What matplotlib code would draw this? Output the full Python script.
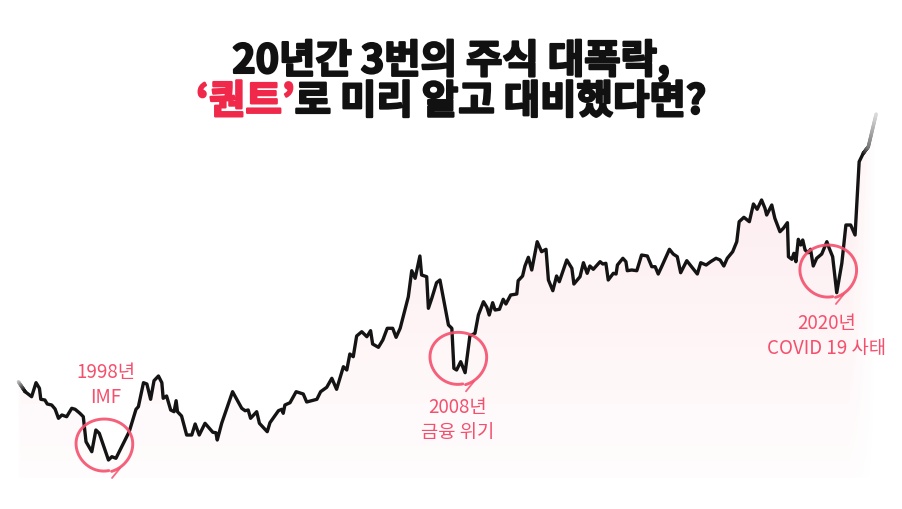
import matplotlib
matplotlib.use("Agg")
import matplotlib.pyplot as plt
import matplotlib.patheffects as pe
import numpy as np
from matplotlib.collections import LineCollection
from matplotlib.transforms import Affine2D, ScaledTranslation

# 지수 흐름 (연도, 지수 수준) - 그림에서 읽은 값
years = [
    1996.01, 1996.21, 1996.40, 1996.53, 1996.63, 1996.67, 1996.79, 1996.86, 1996.99, 1997.09,
    1997.19, 1997.29, 1997.43, 1997.58, 1997.68, 1997.82, 1997.92, 1998.00, 1998.17, 1998.29,
    1998.39, 1998.66, 1998.76, 1998.88, 1999.10, 1999.27, 1999.47, 1999.54, 1999.69, 1999.79,
    1999.90, 2000.00, 2000.13, 2000.23, 2000.27, 2000.37, 2000.49, 2000.59, 2000.65, 2000.69,
    2000.81, 2000.96, 2001.11, 2001.21, 2001.33, 2001.50, 2001.73, 2001.82, 2001.86, 2001.99,
    2002.31, 2002.58, 2002.68, 2002.77, 2002.84, 2003.02, 2003.10, 2003.33, 2003.41, 2003.66,
    2003.76, 2003.80, 2003.85, 2004.00, 2004.18, 2004.39, 2004.49, 2004.79, 2004.90, 2005.08,
    2005.23, 2005.37, 2005.57, 2005.67, 2005.76, 2005.86, 2005.96, 2006.11, 2006.26, 2006.37,
    2006.43, 2006.60, 2006.73, 2006.86, 2007.02, 2007.12, 2007.24, 2007.48, 2007.58, 2007.68,
    2007.82, 2007.87, 2008.02, 2008.07, 2008.17, 2008.31, 2008.41, 2008.66, 2008.76, 2008.82,
    2008.90, 2009.02, 2009.15, 2009.29, 2009.44, 2009.54, 2009.69, 2009.79, 2009.86, 2009.96,
    2010.03, 2010.16, 2010.27, 2010.35, 2010.49, 2010.67, 2010.71, 2010.84, 2010.91, 2011.01,
    2011.11, 2011.27, 2011.40, 2011.53, 2011.60, 2011.73, 2011.84, 2011.92, 2012.14, 2012.29,
    2012.35, 2012.53, 2012.63, 2012.74, 2012.82, 2012.92, 2013.12, 2013.20, 2013.29, 2013.36,
    2013.51, 2013.59, 2013.63, 2013.79, 2013.88, 2013.92, 2014.05, 2014.20, 2014.34, 2014.51,
    2014.64, 2014.74, 2014.83, 2014.93, 2015.16, 2015.27, 2015.39, 2015.49, 2015.67, 2015.81,
    2015.98, 2016.08, 2016.24, 2016.37, 2016.53, 2016.65, 2016.76, 2016.86, 2017.02, 2017.14,
    2017.21, 2017.35, 2017.51, 2017.63, 2017.74, 2017.87, 2017.97, 2018.02, 2018.17, 2018.26,
    2018.41, 2018.51, 2018.63, 2018.66, 2018.76, 2018.82, 2018.88, 2018.95, 2019.02, 2019.08,
    2019.15, 2019.24, 2019.31, 2019.39, 2019.49, 2019.64, 2019.79, 2019.86, 2019.96, 2020.08,
    2020.23, 2020.35, 2020.49, 2020.62, 2020.74, 2020.86, 2021.01, 2021.24,
]
levels = [
    1083, 983, 933, 1073, 1017, 907, 900, 860, 850, 810,
    717, 750, 733, 817, 807, 767, 733, 483, 383, 600,
    567, 300, 333, 317, 467, 583, 807, 833, 1073, 1060,
    907, 1093, 1140, 1073, 917, 940, 800, 783, 893, 783,
    740, 550, 550, 660, 550, 667, 577, 573, 500, 667,
    983, 817, 793, 800, 717, 783, 667, 583, 673, 793,
    807, 767, 850, 873, 983, 960, 880, 907, 983, 1027,
    1117, 1007, 1233, 1200, 1360, 1333, 1540, 1583, 1533, 1593,
    1460, 1427, 1500, 1617, 1617, 1527, 1617, 1933, 2193, 2117,
    2340, 2150, 2133, 1817, 1917, 2073, 2100, 1650, 1617, 1217,
    1200, 1283, 1173, 1540, 1567, 1750, 1883, 1827, 1750, 1873,
    1800, 1807, 1907, 1860, 1950, 1960, 2093, 2140, 2240, 2327,
    2200, 2483, 2383, 2407, 2100, 1993, 2140, 2083, 2300, 2217,
    2060, 2133, 2273, 2167, 2240, 2207, 2283, 2260, 2267, 2100,
    2167, 2160, 2250, 2317, 2283, 2193, 2200, 2193, 2350, 2340,
    2233, 2233, 2160, 2233, 2407, 2360, 2333, 2173, 2293, 2233,
    2160, 2273, 2250, 2283, 2317, 2300, 2240, 2317, 2383, 2483,
    2683, 2727, 2683, 2860, 2807, 2900, 2817, 2750, 2850, 2717,
    2583, 2617, 2673, 2333, 2307, 2367, 2283, 2507, 2450, 2500,
    2400, 2373, 2407, 2240, 2317, 2360, 2483, 2417, 2333, 1973,
    2267, 2650, 2650, 2550, 3283, 3367, 3433, 3760,
]

# 폭락 구간 표시 (동그라미 중심, 설명 위치, 설명)
crash_years = [1998.53, 2008.94, 2019.82]
crash_levels = [450, 1317, 2190]
label_years = [1998.59, 2008.94, 2019.79]
label_levels = [1050, 700, 1540]
crash_labels = ["1998년\nIMF", "2008년\n금융 위기", "2020년\nCOVID 19 사태"]

title_line1 = "20년간 3번의 주식 대폭락,"
title_accent = "‘퀀트’"
title_rest = "로 미리 알고 대비했다면?"

PINK = "#f4506d"
RED = "#f0284a"
INK = "#141414"
FONT = ["Noto Sans CJK KR", "DejaVu Sans"]
BASE = 120
TITLE_SIZE = 28.5


def gradient_line(ax, xs, ys, g0, g1, n=30, lw=2.4):
    # 선 끝부분이 흐려지는 효과: 각 구간을 잘게 나눠 회색조를 바꿔 그림
    px, py = [], []
    for i in range(len(xs) - 1):
        t = np.linspace(0, 1, n, endpoint=False)
        px.extend(xs[i] + (xs[i + 1] - xs[i]) * t)
        py.extend(ys[i] + (ys[i + 1] - ys[i]) * t)
    px.append(xs[-1])
    py.append(ys[-1])
    pts = np.column_stack([px, py]).reshape(-1, 1, 2)
    segs = np.concatenate([pts[:-1], pts[1:]], axis=1)
    g = np.linspace(g0, g1, len(segs))
    cols = [(v, v, v) for v in g]
    ax.add_collection(LineCollection(segs, colors=cols, linewidths=lw,
                                     capstyle="round", joinstyle="round", zorder=3))


def hand_circle(ax, cx, cy, rx=29, ry=27):
    tr = Affine2D() + ScaledTranslation(cx, cy, ax.transData)
    th = np.linspace(np.deg2rad(-75), np.deg2rad(-75 + 355), 200)
    rs = np.linspace(1.0, 0.95, th.size) + 0.015 * np.sin(3 * th)
    ax.plot(rx * rs * np.cos(th), ry * rs * np.sin(th), color=PINK, lw=2.1,
            alpha=0.9, transform=tr, solid_capstyle="round", zorder=4)
    # 말풍선 꼬리
    ax.plot([rx * 0.55, 8], [-ry * 0.86, -ry - 6], color=PINK, lw=1.3,
            alpha=0.85, transform=tr, solid_capstyle="round", zorder=4)


fig = plt.figure(figsize=(9.02, 5.09), dpi=100)
ax = fig.add_axes([0, 0, 1, 1])
ax.set_axis_off()

# 연한 분홍 그라데이션 면
poly = ax.fill_between(years, levels, BASE, color="none", lw=0)
x0, x1 = years[0] - 0.08, years[-1]
top = max(levels)
h, w = 256, 600
yy = np.linspace(1, 0, h)[:, None]
xg = np.linspace(x0, x1, w)[None, :]
fade = np.clip((x1 - xg) / 0.8, 0, 1) * np.clip((xg - x0) / 0.12, 0, 1)
img = np.zeros((h, w, 4))
img[..., 0] = 238 / 255
img[..., 1] = 70 / 255
img[..., 2] = 100 / 255
img[..., 3] = (0.015 + 0.10 * yy) * fade
im = ax.imshow(img, extent=[x0, x1, BASE, top], aspect="auto", origin="upper", zorder=1)
im.set_clip_path(poly.get_paths()[0], ax.transData)

# 지수 선
ax.plot(years[1:-2], levels[1:-2], color=INK, lw=2.4, solid_joinstyle="round",
        solid_capstyle="round", zorder=3)
gradient_line(ax, years[:2], levels[:2], 0.8, 0.08)
gradient_line(ax, years[-3:], levels[-3:], 0.08, 0.85)

for cx, cy, lx, ly, lab in zip(crash_years, crash_levels, label_years, label_levels, crash_labels):
    hand_circle(ax, cx, cy)
    ax.text(lx, ly, lab, ha="center", va="center", color=PINK, fontsize=13.5,
            family=FONT, linespacing=1.25, zorder=5)

ax.set_xlim(1995.47, 2022.0)
ax.set_ylim(-190, 4900)

# 제목 (굵게 보이도록 외곽선 추가)
def heavy(color):
    return [pe.withStroke(linewidth=1.6, foreground=color)]


fig.text(0.5, 1 - 61 / 509, title_line1, ha="center", va="center", fontsize=TITLE_SIZE,
         fontweight="black", family=FONT, color="#111111", path_effects=heavy("#111111"))
y2 = 1 - 102 / 509
t1 = fig.text(0, y2, title_accent, ha="left", va="center", fontsize=TITLE_SIZE,
              fontweight="black", family=FONT, color=RED, path_effects=heavy(RED))
t2 = fig.text(0, y2, title_rest, ha="left", va="center", fontsize=TITLE_SIZE,
              fontweight="black", family=FONT, color="#111111", path_effects=heavy("#111111"))
fig.canvas.draw()
r = fig.canvas.get_renderer()
w1 = t1.get_window_extent(r).width
w2 = t2.get_window_extent(r).width
W = fig.bbox.width
left = (W - (w1 + w2)) / 2
t1.set_x(left / W)
t2.set_x((left + w1) / W)

fig.savefig("out.png", dpi=100)
